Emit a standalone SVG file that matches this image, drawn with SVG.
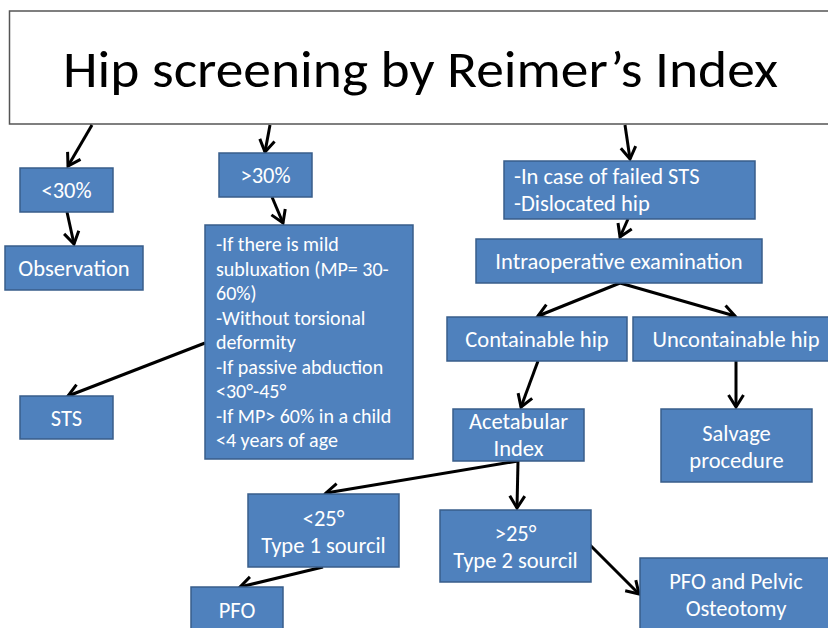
<svg xmlns="http://www.w3.org/2000/svg" width="828" height="628" viewBox="0 0 828 628">
<style>
.box{fill:#4F81BD;stroke:#385D8A;stroke-width:1.5}
.t{font-family:Carlito,Lato,"Open Sans",sans-serif;font-size:22.5px;fill:#ffffff}
.s{font-size:20px}
.c{text-anchor:middle}
.title{font-family:Carlito,Lato,"Open Sans",sans-serif;font-size:52px;fill:#000000}
.arr{stroke:#000000;stroke-width:3;fill:none;marker-end:url(#ah)}
</style>
<defs>
<marker id="ah" markerUnits="userSpaceOnUse" markerWidth="20" markerHeight="20" viewBox="-16 -10 20 20" refX="0" refY="0" orient="auto">
<path d="M-12,-7.5 L0,0 L-12,7.5" fill="none" stroke="#000000" stroke-width="3" stroke-linejoin="miter"/>
</marker>
</defs>
<rect x="0" y="0" width="828" height="628" fill="#ffffff"/>
<g id="title">
<rect x="9.5" y="11" width="830" height="113" fill="#ffffff" stroke="#555555" stroke-width="1.5"/>
<text class="title" x="63" y="87" textLength="715" lengthAdjust="spacingAndGlyphs">Hip screening by Reimer’s Index</text>
</g>
<g id="connectors">
<line class="arr" x1="92" y1="125" x2="68" y2="166"/>
<line class="arr" x1="270" y1="125" x2="265" y2="152"/>
<line class="arr" x1="67" y1="212" x2="74" y2="244"/>
<line class="arr" x1="272" y1="197" x2="283" y2="223"/>
<line class="arr" x1="205" y1="343" x2="68" y2="396"/>
<line class="arr" x1="625" y1="125" x2="630" y2="159"/>
<line class="arr" x1="628" y1="219" x2="620" y2="237"/>
<line class="arr" x1="620" y1="283" x2="538" y2="316"/>
<line class="arr" x1="620" y1="283" x2="735" y2="316"/>
<line class="arr" x1="538" y1="361" x2="521" y2="407"/>
<line class="arr" x1="736" y1="361" x2="736" y2="407"/>
<line class="arr" x1="518" y1="461" x2="326" y2="493"/>
<line class="arr" x1="518" y1="461" x2="517" y2="508"/>
<line class="arr" x1="323" y1="567" x2="240" y2="587"/>
<line class="arr" x1="590" y1="545" x2="639" y2="594"/>
</g>
<g id="lt30">
<rect class="box" x="20" y="168" width="93" height="44"/>
<text class="t c" x="66.5" y="198">&lt;30%</text>
</g>
<g id="gt30">
<rect class="box" x="219" y="153" width="93" height="44"/>
<text class="t c" x="265.5" y="183">&gt;30%</text>
</g>
<g id="observation">
<rect class="box" x="5" y="246" width="138" height="44"/>
<text class="t c" x="74" y="276">Observation</text>
</g>
<g id="criteria">
<rect class="box" x="205" y="225" width="208" height="234"/>
<text class="t s" x="216" y="251">-If there is mild</text>
<text class="t s" x="216" y="275.5">subluxation (MP= 30-</text>
<text class="t s" x="216" y="300">60%)</text>
<text class="t s" x="216" y="324.5">-Without torsional</text>
<text class="t s" x="216" y="349">deformity</text>
<text class="t s" x="216" y="373.5">-If passive abduction</text>
<text class="t s" x="216" y="398">&lt;30°-45°</text>
<text class="t s" x="216" y="422.5">-If MP&gt; 60% in a child</text>
<text class="t s" x="216" y="447">&lt;4 years of age</text>
</g>
<g id="sts">
<rect class="box" x="20" y="396" width="93" height="43"/>
<text class="t c" x="66.5" y="426">STS</text>
</g>
<g id="failed">
<rect class="box" x="504" y="161" width="251" height="58"/>
<text class="t" x="514" y="184">-In case of failed STS</text>
<text class="t" x="514" y="211">-Dislocated hip</text>
</g>
<g id="intraop">
<rect class="box" x="476" y="239" width="286" height="44"/>
<text class="t c" x="619" y="269">Intraoperative examination</text>
</g>
<g id="containable">
<rect class="box" x="447" y="317" width="180" height="44"/>
<text class="t c" x="537" y="347">Containable hip</text>
</g>
<g id="uncontainable">
<rect class="box" x="633" y="317" width="200" height="44"/>
<text class="t c" x="736" y="347">Uncontainable hip</text>
</g>
<g id="acetabular">
<rect class="box" x="453" y="409" width="131" height="52"/>
<text class="t c" x="518.5" y="429">Acetabular</text>
<text class="t c" x="518.5" y="456">Index</text>
</g>
<g id="salvage">
<rect class="box" x="661" y="409" width="151" height="73"/>
<text class="t c" x="736.5" y="441">Salvage</text>
<text class="t c" x="736.5" y="468">procedure</text>
</g>
<g id="lt25">
<rect class="box" x="248" y="494" width="151" height="73"/>
<text class="t c" x="323.5" y="526">&lt;25°</text>
<text class="t c" x="323.5" y="553">Type 1 sourcil</text>
</g>
<g id="gt25">
<rect class="box" x="440" y="510" width="151" height="72"/>
<text class="t c" x="515.5" y="541">&gt;25°</text>
<text class="t c" x="515.5" y="568">Type 2 sourcil</text>
</g>
<g id="pfo">
<rect class="box" x="191" y="587" width="92" height="50"/>
<text class="t c" x="237" y="618">PFO</text>
</g>
<g id="pfo-pelvic">
<rect class="box" x="640" y="558" width="200" height="80"/>
<text class="t c" x="736" y="589">PFO and Pelvic</text>
<text class="t c" x="736" y="616">Osteotomy</text>
</g>
</svg>
